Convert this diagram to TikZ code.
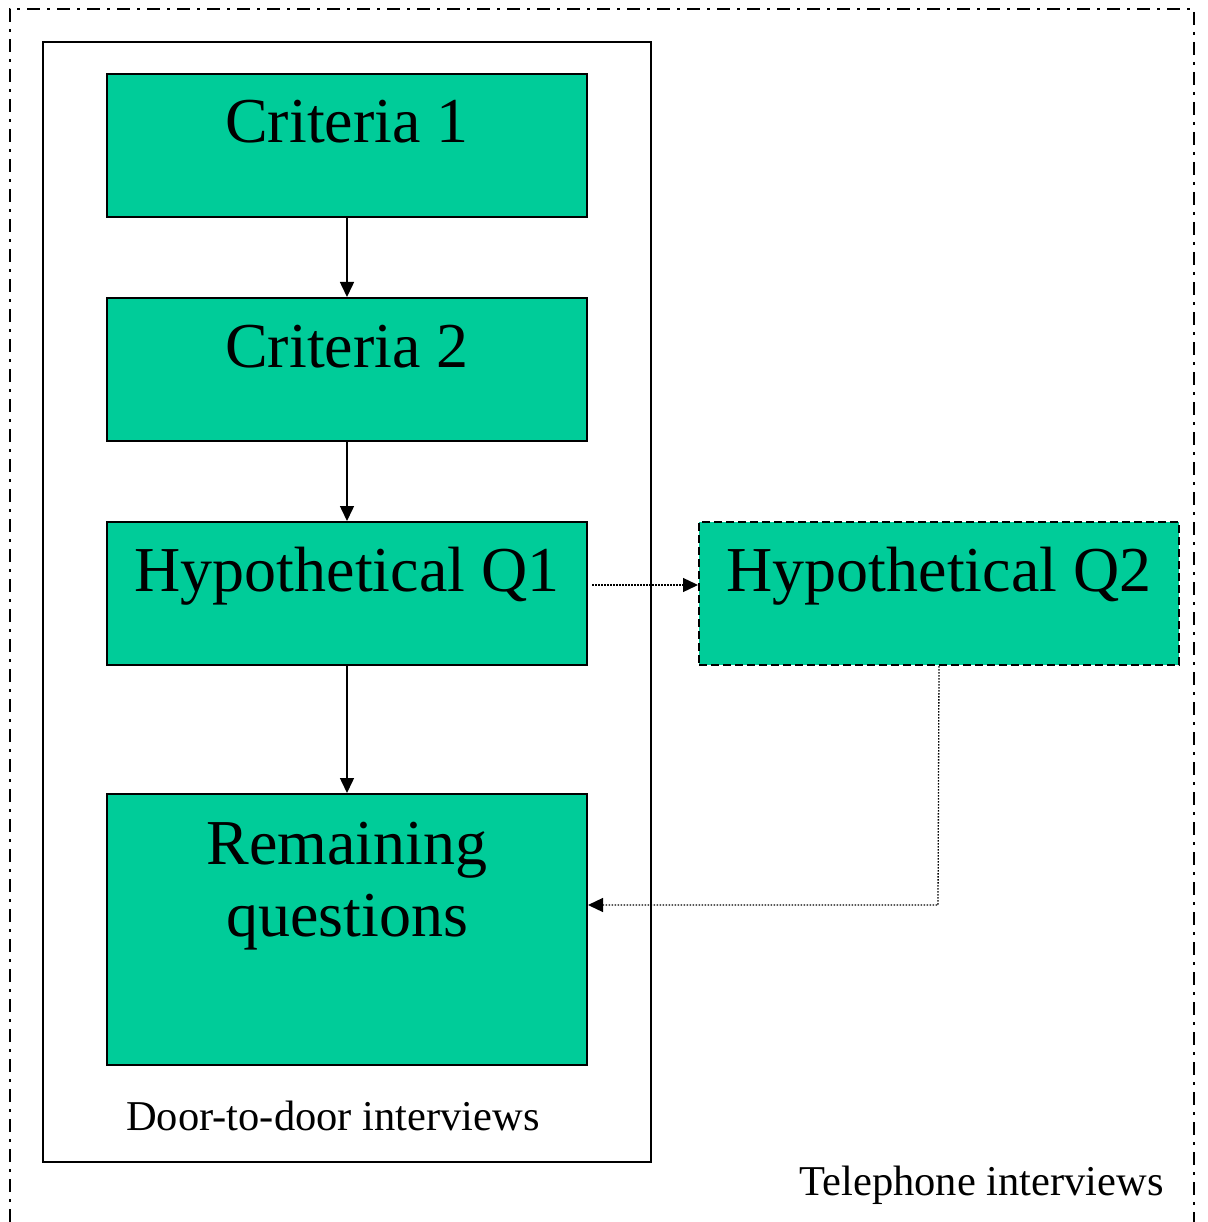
\documentclass[tikz,border=0pt]{standalone}
\usepackage{fontspec}
\setmainfont{Liberation Serif}
\usetikzlibrary{arrows.meta,calc}
\definecolor{boxgreen}{RGB}{0,204,153}
\begin{document}
\begin{tikzpicture}[x=1pt,y=1pt,
  gbox/.style={draw=black,line width=2pt,fill=boxgreen,minimum width=480pt,minimum height=143pt,inner sep=0pt,anchor=north west},
  btext/.style={anchor=base,font=\fontsize{64}{67}\selectfont,inner sep=0pt},
  stext/.style={anchor=base,font=\fontsize{42.5}{48}\selectfont,inner sep=0pt},
  solidarrow/.style={line width=1.5pt,-{Triangle[length=15pt,width=14pt]}},
  dotarrow/.style={line width=1.3pt,dash pattern=on 1.5pt off 1.5pt,-{Triangle[length=15pt,width=14pt]}}]
\useasboundingbox (0,0) rectangle (1207,-1222);
% outer telephone frame (open at bottom)
\draw[line width=2pt,dash pattern=on 13pt off 7pt on 3pt off 7pt] (10,-1222) -- (10,-9) -- (1194,-9) -- (1194,-1222);
% inner door-to-door frame
\node[draw,line width=2pt,minimum width=608pt,minimum height=1120pt,inner sep=0pt,anchor=north west] (door) at (42,-41) {};
% boxes
\node[gbox] (c1) at (106,-73) {};
\node[gbox] (c2) at (106,-297) {};
\node[gbox] (h1) at (106,-521) {};
\node[gbox,minimum height=271pt] (rem) at (106,-793) {};
\node[gbox,dash pattern=on 8pt off 4pt] (h2) at (698,-521) {};
% texts
\node[btext] (t1) at ($(c1.north)+(0,-70)$) {Criteria 1};
\node[btext] (t2) at ($(c2.north)+(0,-70)$) {Criteria 2};
\node[btext] (t3) at ($(h1.north)+(0,-70)$) {Hypothetical Q1};
\node[btext] (t4) at ($(h2.north)+(0,-70)$) {Hypothetical Q2};
\node[btext] (t5) at ($(rem.north)+(0,-71)$) {Remaining};
\node[btext] (t6) at ($(rem.north)+(0,-143)$) {questions};
\node[stext] (d) at (333,-1130) {Door-to-door interviews};
\node[stext] (tel) at (981.5,-1195) {Telephone interviews};
% connectors
\draw[solidarrow] (c1.south) -- (c2.north);
\draw[solidarrow] (c2.south) -- (h1.north);
\draw[solidarrow] (h1.south) -- (rem.north);
\draw[dotarrow] ($(h1.east)+(4,8.5)$) -- ($(h2.west)+(0,8.5)$);
\coordinate (bend) at (938,-905);
\draw[dotarrow] (h2.south) -- (bend) -- (rem.east|-bend);
\end{tikzpicture}
\end{document}
